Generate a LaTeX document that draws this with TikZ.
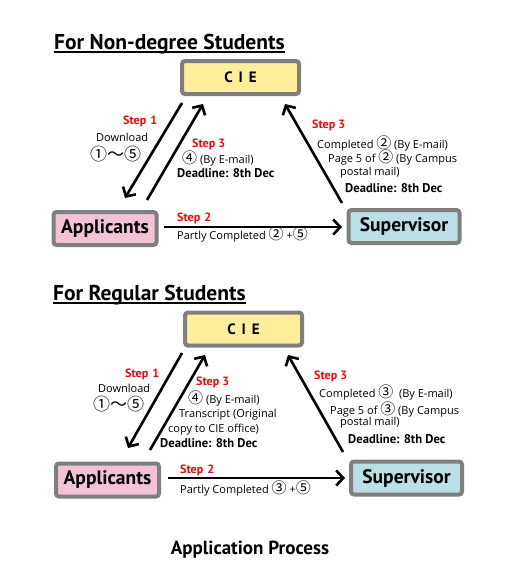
\documentclass[tikz,border=0pt]{standalone}
\usepackage{fontspec}
\usetikzlibrary{arrows.meta}
\setmainfont{Open Sans}
\newfontfamily\bfam{PT Sans}[BoldFont={PT Sans Bold}]
\newfontfamily\cjk{Noto Sans CJK JP}
\newcommand{\cn}[1]{{\cjk\fontsize{15}{15}\selectfont #1}}
\newcommand{\cnbig}[1]{{\cjk\fontsize{17}{17}\selectfont #1}}
\definecolor{boxgray}{HTML}{7F7F7F}
\definecolor{cieyellow}{HTML}{FFEE99}
\definecolor{apppink}{HTML}{F4C2D7}
\definecolor{supblue}{HTML}{BAE0E6}
\definecolor{stepred}{HTML}{FF0000}
\begin{document}
\begin{tikzpicture}[x=1pt,y=-1pt,
  box/.style={draw=boxgray, line width=4pt, rounded corners=3pt, inner sep=0pt,
    minimum height=33pt, font=\bfam\bfseries\fontsize{19.5}{21}\selectfont},
  ciebox/.style={box, fill=cieyellow, minimum width=117pt, font=\bfam\bfseries\fontsize{15}{17}\selectfont},
  appbox/.style={box, fill=apppink, minimum width=103pt},
  supbox/.style={box, fill=supblue, minimum width=111pt},
  flow/.style={line width=2.6pt, -{Straight Barb[length=7pt,width=15pt]}},
  lbl/.style={anchor=base west, inner sep=0pt, font=\fontsize{11}{13}\selectfont},
  steplbl/.style={lbl, text=stepred, font=\bfam\bfseries\fontsize{12}{14}\selectfont},
  dline/.style={lbl, font=\bfam\bfseries\fontsize{12.6}{14}\selectfont},
  ttl/.style={anchor=base west, inner sep=0pt, font=\bfam\bfseries\fontsize{21.5}{24}\selectfont},
  uline/.style={line width=1.3pt}
]
\useasboundingbox (0,0) rectangle (510,568);

% ---------------- Non-degree ----------------
\node[ttl] (t1) at (54,49) {For Non-degree Students};
\draw[uline] ([yshift=-3pt]t1.base west) -- ([yshift=-3pt]t1.base east);

\node[ciebox] (cie1) at (240.5,77.5) {C\hspace{0.4em}I\hspace{0.4em}E};
\node[appbox] (app1) at (105,228.5) {Applicants};
\node[supbox] (sup1) at (404,226.5) {Supervisor};

\coordinate (a1s) at (182,103);
\coordinate (a1e) at (125,198);
\coordinate (b1s) at (147,200);
\coordinate (b1e) at (203,104);
\coordinate (c1s) at (342,203);
\coordinate (c1e) at (285,104);
\coordinate (d1s) at (164,227);
\coordinate (d1e) at (342,227);
\draw[flow] (a1s) -- (a1e);
\draw[flow] (b1s) -- (b1e);
\draw[flow] (c1s) -- (c1e);
\draw[flow] (d1s) -- (d1e);

\node[steplbl] (s11) at (123,124) {Step\,\,1};
\node[lbl] (dl1) at (96,141) {Download};
\node[lbl] (cr1) at (90,160) {\cnbig{①～⑤}};

\node[steplbl] (s13) at (192,147) {Step 3};
\node[lbl] (e1) at (182,163) {\cn{④} (By E-mail)};
\node[dline] (dd1) at (177,177) {Deadline: 8th Dec};

\node[steplbl] (s13r) at (312,128) {Step 3};
\node[lbl] (r11) at (317,148) {Completed \cn{②} (By E-mail)};
\node[lbl] (r12) at (328,162) {Page 5 of \cn{②} (By Campus};
\node[lbl] (r13) at (340,175) {postal mail)};
\node[dline] (rd1) at (345,192) {Deadline: 8th Dec};

\node[steplbl] (s12) at (177,221) {Step\,\,2};
\node[lbl] (p1) at (177,239) {Partly Completed \cn{②} +\cn{⑤}};

% ---------------- Regular ----------------
\node[ttl] (t2) at (53,300) {For Regular Students};
\draw[uline] ([yshift=-3pt]t2.base west) -- ([yshift=-3pt]t2.base east);

\node[ciebox] (cie2) at (243.5,329) {C\hspace{0.4em}I\hspace{0.4em}E};
\node[appbox] (app2) at (107.5,480) {Applicants};
\node[supbox] (sup2) at (406.5,478) {Supervisor};

\coordinate (a2s) at (182,353);
\coordinate (a2e) at (128,448);
\coordinate (b2s) at (150,450);
\coordinate (b2e) at (205,355);
\coordinate (c2s) at (343,452);
\coordinate (c2e) at (288,355);
\coordinate (d2s) at (168,478);
\coordinate (d2e) at (345,478);
\draw[flow] (a2s) -- (a2e);
\draw[flow] (b2s) -- (b2e);
\draw[flow] (c2s) -- (c2e);
\draw[flow] (d2s) -- (d2e);

\node[steplbl] (s21) at (125,377) {Step\,\,1};
\node[lbl] (dl2) at (98,392) {Download};
\node[lbl] (cr2) at (93,410) {\cnbig{①～⑤}};

\node[steplbl] (s23) at (196,385) {Step 3};
\node[lbl] (e2) at (188,403) {\cn{④} (By E-mail)};
\node[lbl] (tr2) at (179,417) {Transcript (Original};
\node[lbl] (cp2) at (168,432) {copy to CIE office)};
\node[dline] (dd2) at (160,447) {Deadline: 8th Dec};

\node[steplbl] (s23r) at (314,379) {Step 3};
\node[lbl] (r21) at (319,397) {Completed \cn{③}\ \ (By E-mail)};
\node[lbl] (r22) at (330,414) {Page 5 of \cn{③} (By Campus};
\node[lbl] (r23) at (340,425) {postal mail)};
\node[dline] (rd2) at (348,443) {Deadline: 8th Dec};

\node[steplbl] (s22) at (180,473) {Step\,\,2};
\node[lbl] (p2) at (180,493) {Partly Completed \cn{③} +\cn{⑤}};

\node[anchor=base, inner sep=0pt, font=\bfam\bfseries\fontsize{19}{21}\selectfont] (ap) at (250,554) {Application Process};
\end{tikzpicture}
\end{document}
